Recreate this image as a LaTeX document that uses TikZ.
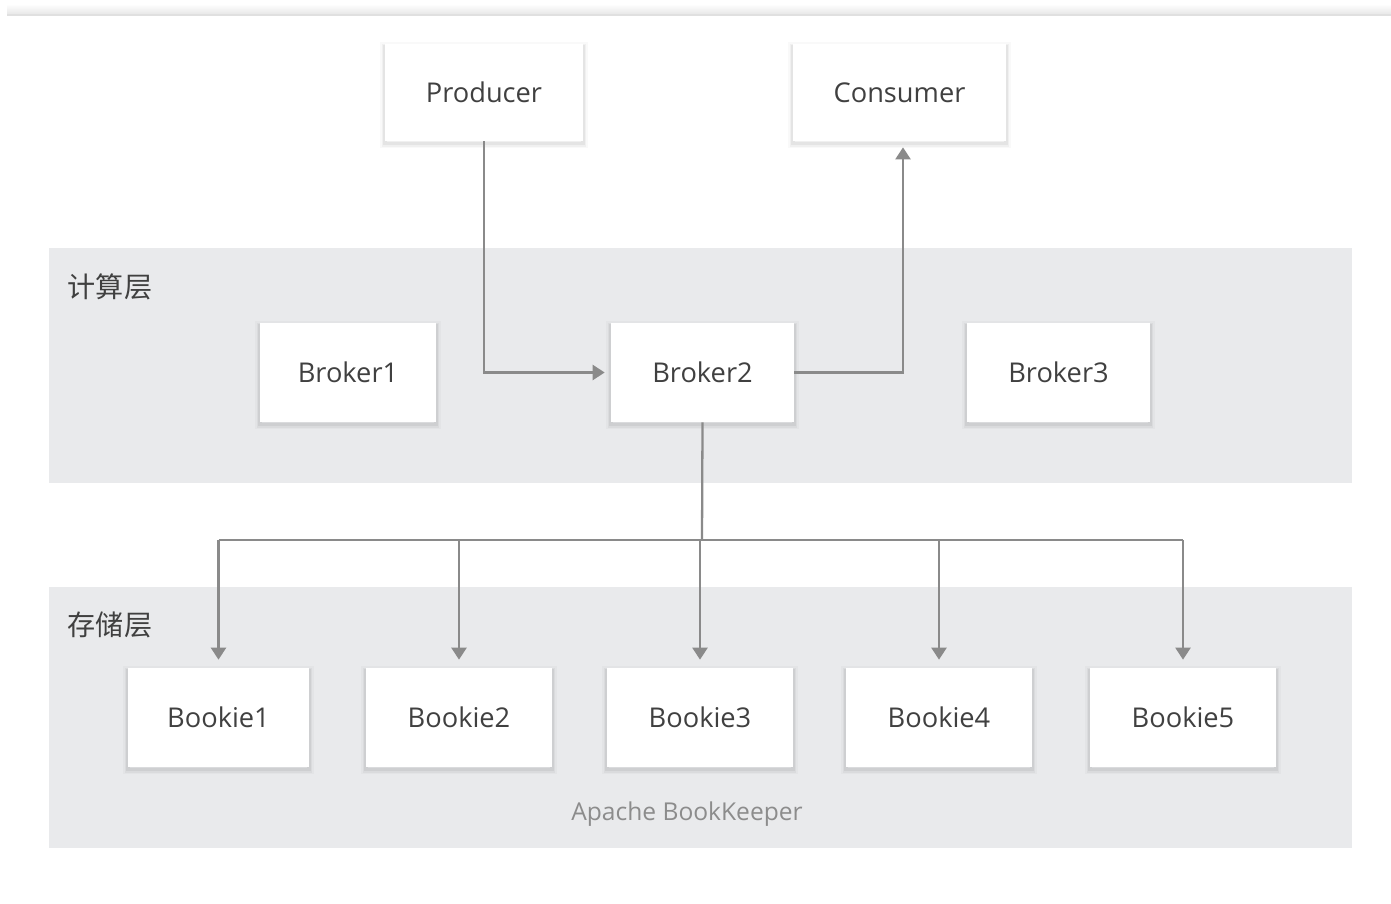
\documentclass[tikz,border=0pt]{standalone}
\usepackage{fontspec}
\setmainfont{Open Sans}
\newfontfamily\cjk{Noto Sans CJK SC}
\usetikzlibrary{arrows.meta}
\definecolor{layerbg}{HTML}{E9EAEC}
\definecolor{linkgray}{HTML}{8A8A8A}
\definecolor{txtgray}{HTML}{404040}
\definecolor{notegray}{HTML}{8C8C8C}
\tikzset{
  softshadow/.style={
    preaction={draw=black,draw opacity=0.025,line width=5.5pt,transform canvas={yshift=-1.5pt}},
    preaction={draw=black,draw opacity=0.035,line width=3.5pt,transform canvas={yshift=-1.5pt}},
    preaction={draw=black,draw opacity=0.05,line width=2pt,transform canvas={yshift=-1.5pt}}},
  box/.style={softshadow,fill=white,minimum height=1.98cm,text=txtgray,font=\fontsize{15.5}{18}\selectfont},
  conn/.style={draw=linkgray,line width=1.3pt},
  link/.style={conn,-{Triangle[width=0.3cm,length=0.24cm]}},
  layername/.style={text=txtgray,font=\cjk\fontsize{16}{19}\selectfont}
}
\begin{document}
\begin{tikzpicture}[x=0.02cm,y=-0.02cm]
\useasboundingbox (0,0) rectangle (1391,903);
\shade[top color=white,bottom color=black!10] (7,4) rectangle (1391,15);
\draw[black!12,line width=0.6pt] (7,15) -- (1391,15);
\fill[layerbg] (49,248) rectangle (1352,483);
\fill[layerbg] (49,587) rectangle (1352,848);
\node[layername] (calc) at (110,287) {计算层};
\node[layername] (store) at (110,625) {存储层};
\node[box,minimum width=3.96cm,minimum height=1.94cm] (prod) at (484,92.5) {Producer};
\node[box,minimum width=4.26cm,minimum height=1.94cm] (cons) at (899.5,92.5) {Consumer};
\node[box,minimum width=3.52cm] (b1) at (348,372.5) {Broker1};
\node[box,minimum width=3.66cm] (b2) at (702.5,372.5) {Broker2};
\node[box,minimum width=3.66cm] (b3) at (1058.5,372.5) {Broker3};
\node[box,minimum width=3.62cm] (bk1) at (218.5,717.5) {Bookie1};
\node[box,minimum width=3.72cm] (bk2) at (459,717.5) {Bookie2};
\node[box,minimum width=3.72cm] (bk3) at (700,717.5) {Bookie3};
\node[box,minimum width=3.72cm] (bk4) at (939,717.5) {Bookie4};
\node[box,minimum width=3.72cm] (bk5) at (1183,717.5) {Bookie5};
\node[text=notegray,font=\fontsize{14}{17}\selectfont] (bkeeper) at (687,814) {Apache BookKeeper};
\draw[link,shorten >=0.12cm] (prod.south) |- (b2.west);
\draw[link,shorten >=0.12cm] (b2.east) -| ([xshift=0.07cm]cons.south);
\coordinate (split) at (702,540);
\draw[conn] (b2.south) -- (split);
\draw[conn] (bk1.north |- split) -- (bk5.north |- split);
\draw[link,shorten >=0.16cm] (bk1.north |- split) -- (bk1.north);
\draw[link,shorten >=0.16cm] (bk2.north |- split) -- (bk2.north);
\draw[link,shorten >=0.16cm] (bk3.north |- split) -- (bk3.north);
\draw[link,shorten >=0.16cm] (bk4.north |- split) -- (bk4.north);
\draw[link,shorten >=0.16cm] (bk5.north |- split) -- (bk5.north);
\end{tikzpicture}
\end{document}
